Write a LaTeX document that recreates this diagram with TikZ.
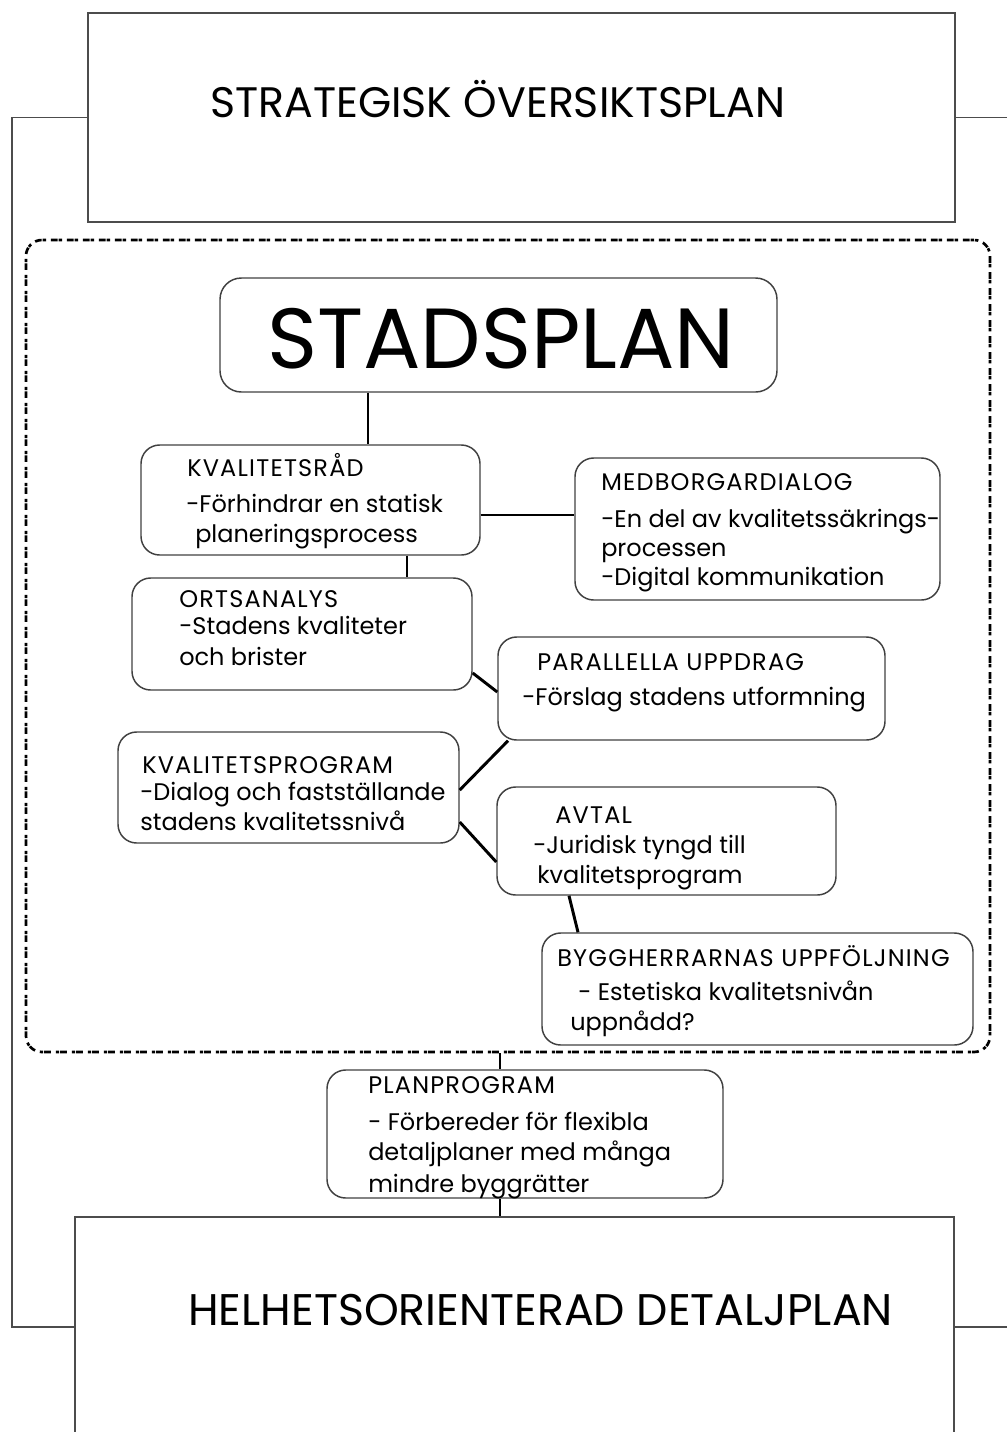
\documentclass[tikz,border=0pt]{standalone}
\usepackage{fontspec}
\setmainfont{Poppins}
\newcommand{\planbox}[6]{
    \node[#1, minimum width={(#5-#3)*0.75pt}, minimum height={(#6-#4)*0.75pt}]
        (#2) at ({(#3+#5)/2}, {(#4+#6)/2}) {};
}
\newcommand{\boxline}[4]{
    \node[txt, anchor=base west] (#1) at (#2, #3) {#4};
}
\newcommand{\boxhead}[4]{
    \node[txt, anchor=base west, head] (#1) at (#2, #3) {#4};
}
\tikzset{
    plan/.style={rectangle, draw=black!70, line width=1.5pt, inner sep=0pt},
    card/.style={rectangle, rounded corners=14pt, draw=black!75, line width=1.1pt, inner sep=0pt},
    zone/.style={rectangle, rounded corners=12pt, draw=black, line width=2pt,
        dash pattern=on 2.5pt off 0.8pt on 5pt off 3.7pt, inner sep=0pt},
    link/.style={line width=2.2pt},
    wire/.style={draw=black!70, line width=1.2pt},
    txt/.style={inner sep=0pt, font=\fontsize{18}{21}\selectfont},
    head/.style={font=\fontsize{18}{21}\selectfont\addfontfeature{LetterSpace=5}},
    title/.style={inner sep=0pt, anchor=base west, font=\fontsize{32}{38}\selectfont}
}

\begin{document}
\begin{tikzpicture}[x=0.75pt, y=-0.75pt]
    \useasboundingbox (0,0) rectangle (1007,1432);

    \planbox{plan}{strat}{88}{13}{955}{222}
    \planbox{plan}{detalj}{75}{1217}{954}{1437}
    \planbox{zone}{frame}{26}{240}{990}{1052}
    \planbox{card, rounded corners=16pt}{stad}{220}{278}{777}{392}
    \planbox{card}{kvr}{141}{445}{480}{555}
    \planbox{card}{med}{575}{458}{940}{600}
    \planbox{card}{orts}{132}{578}{472}{690}
    \planbox{card}{para}{498}{637}{885}{740}
    \planbox{card}{kprog}{118}{732}{459}{843}
    \planbox{card}{avtal}{497}{787}{836}{895}
    \planbox{card}{bygg}{542}{933}{973}{1045}
    \planbox{card}{plprog}{327}{1070}{723}{1198}

    \node[title] (strat-t) at (210,117) {STRATEGISK ÖVERSIKTSPLAN};
    \node[title, anchor=base, font=\fontsize{64}{72}\selectfont] (stad-t) at (501,368) {STADSPLAN};
    \node[title, font=\fontsize{33.2}{40}\selectfont] (detalj-t) at (188,1325) {HELHETSORIENTERAD DETALJPLAN};

    \boxhead{kvr-1}{187}{476}{KVALITETSRÅD}
    \boxline{kvr-2}{186}{512}{-Förhindrar en statisk}
    \boxline{kvr-3}{195}{542}{planeringsprocess}

    \boxhead{med-1}{601}{490}{MEDBORGARDIALOG}
    \boxline{med-2}{601}{527}{-En del av kvalitetssäkrings-}
    \boxline{med-3}{601}{556}{processen}
    \boxline{med-4}{601}{585}{-Digital kommunikation}

    \boxhead{orts-1}{179}{607}{ORTSANALYS}
    \boxline{orts-2}{179}{634}{-Stadens kvaliteter}
    \boxline{orts-3}{179}{665}{och brister}

    \boxhead{para-1}{537}{670}{PARALLELLA UPPDRAG}
    \boxline{para-2}{522}{705}{-Förslag stadens utformning}

    \boxhead{kprog-1}{142}{773}{KVALITETSPROGRAM}
    \boxline{kprog-2}{140}{800}{-Dialog och fastställande}
    \boxline{kprog-3}{140}{830}{stadens kvalitetssnivå}

    \boxhead{avtal-1}{555}{823}{AVTAL}
    \boxline{avtal-2}{533}{853}{-Juridisk tyngd till}
    \boxline{avtal-3}{537}{883}{kvalitetsprogram}

    \boxhead{bygg-1}{557}{966}{BYGGHERRARNAS UPPFÖLJNING}
    \boxline{bygg-2}{578}{1000}{- Estetiska kvalitetsnivån}
    \boxline{bygg-3}{570}{1030}{uppnådd?}

    \boxhead{plprog-1}{368}{1093}{PLANPROGRAM}
    \boxline{plprog-2}{368}{1130}{- Förbereder för flexibla}
    \boxline{plprog-3}{368}{1160}{detaljplaner med många}
    \boxline{plprog-4}{368}{1192}{mindre byggrätter}

    \draw[wire] (strat.west) -| (12,0 |- detalj.west) -- (detalj.west);
    \draw[wire] (strat.east) -- (1007,0 |- strat.east);
    \draw[wire] (detalj.east) -- (1007,0 |- detalj.east);

    \draw[link] (stad.south -| 368,0) -- (kvr.north -| 368,0);
    \draw[link] (kvr.east |- 0,515) -- (med.west |- 0,515);
    \draw[link] (kvr.south -| 407,0) -- (orts.north -| 407,0);
    \draw[link] (orts.east |- 0,673) -- (para.west |- 0,692);
    \draw[link] (kprog.east |- 0,790) -- (para.south -| 508,0);
    \draw[link] (kprog.east |- 0,822) -- (avtal.west |- 0,862);
    \draw[link] (avtal.south -| 569,0) -- (bygg.north -| 578,0);
    \draw[link] (frame.south -| 500,0) -- (plprog.north -| 500,0);
    \draw[link] (plprog.south -| 500,0) -- (detalj.north -| 500,0);
\end{tikzpicture}
\end{document}
